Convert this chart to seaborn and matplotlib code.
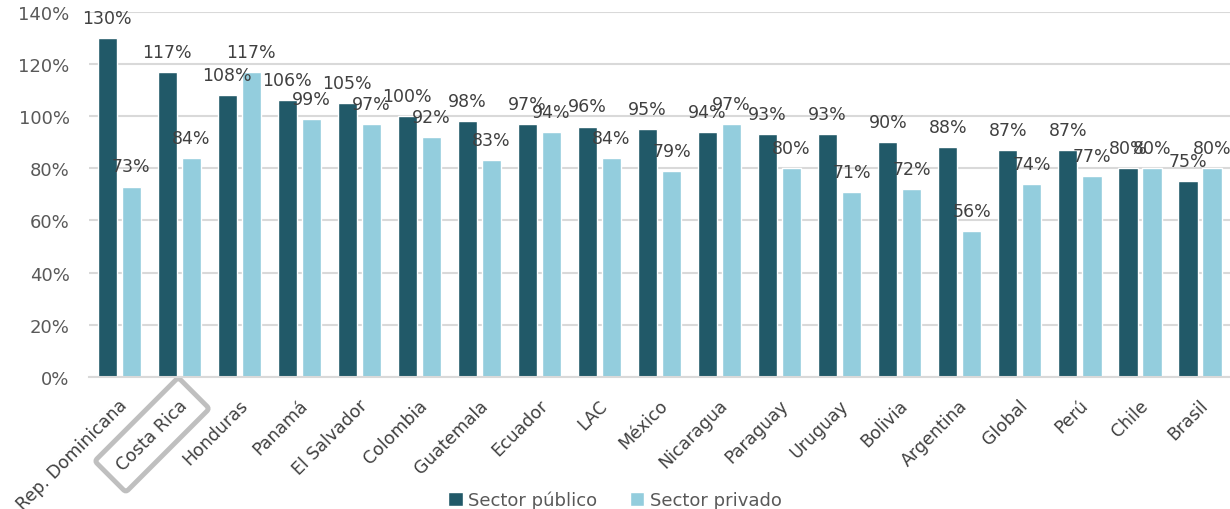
import matplotlib
matplotlib.use("Agg")
import matplotlib.pyplot as plt
import matplotlib.transforms as mtransforms
import seaborn as sns
import pandas as pd
from matplotlib.ticker import FuncFormatter

categories = ["Rep. Dominicana", "Costa Rica", "Honduras", "Panamá", "El Salvador",
              "Colombia", "Guatemala", "Ecuador", "LAC", "México", "Nicaragua",
              "Paraguay", "Uruguay", "Bolivia", "Argentina", "Global", "Perú",
              "Chile", "Brasil"]
publico = [130, 117, 108, 106, 105, 100, 98, 97, 96, 95, 94, 93, 93, 90, 88, 87, 87, 80, 75]
privado = [73, 84, 117, 99, 97, 92, 83, 94, 84, 79, 97, 80, 71, 72, 56, 74, 77, 80, 80]
series = ["Sector público", "Sector privado"]
colors = ["#215968", "#93CDDD"]

df = pd.DataFrame({
    "pais": categories * 2,
    "valor": publico + privado,
    "serie": [series[0]] * len(categories) + [series[1]] * len(categories),
})

sns.set_theme(style="white")
plt.rcParams["font.family"] = ["DejaVu Sans"]

fig = plt.figure(figsize=(12.3, 5.1), dpi=100)
ax = fig.add_axes([0.0725, 0.259, 0.9275, 0.716])

sns.barplot(data=df, x="pais", y="valor", hue="serie", palette=colors,
            width=0.8, gap=0.2, ax=ax, legend=True, saturation=1)

for c in ax.containers:
    ax.bar_label(c, labels=[f"{v:.0f}%" for v in c.datavalues], padding=8,
                 fontsize=12.5, color="#404040")

ax.set_ylim(0, 140)
ax.set_xlim(-0.5, len(categories) - 0.5)
ax.set_yticks(range(0, 141, 20))
ax.yaxis.set_major_formatter(FuncFormatter(lambda v, p: f"{v:.0f}%"))
ax.grid(axis="y", color="#d9d9d9", linewidth=1.5)
ax.set_axisbelow(True)
for s in ["top", "right", "left"]:
    ax.spines[s].set_visible(False)
ax.spines["bottom"].set_color("#d9d9d9")
ax.spines["bottom"].set_linewidth(1.5)
ax.set_xlabel("")
ax.set_ylabel("")
ax.tick_params(axis="y", labelsize=13, labelcolor="#595959", length=0, pad=14)
ax.tick_params(axis="x", labelsize=12.5, labelcolor="#404040", length=0, pad=0)
offset = mtransforms.ScaledTranslation(-1 / 100, -19 / 100, fig.dpi_scale_trans)
for lab in ax.get_xticklabels():
    lab.set_rotation(45)
    lab.set_ha("right")
    lab.set_va("top")
    lab.set_rotation_mode("anchor")
    lab.set_transform(lab.get_transform() + offset)
    if lab.get_text() == "Costa Rica":
        lab.set_bbox(dict(boxstyle="round,pad=0.75,rounding_size=0.2", fc="none",
                          ec="#bfbfbf", lw=3.5))

leg = ax.legend(loc="lower center", ncol=2, frameon=False, fontsize=13,
                handlelength=0.8, handleheight=0.8, handletextpad=0.3, columnspacing=1.8,
                borderaxespad=0, borderpad=0.1)
for t in leg.get_texts():
    t.set_color("#595959")
leg.set_bbox_to_anchor((0.5, -0.004), transform=fig.transFigure)

fig.savefig("out.png", dpi=100)
